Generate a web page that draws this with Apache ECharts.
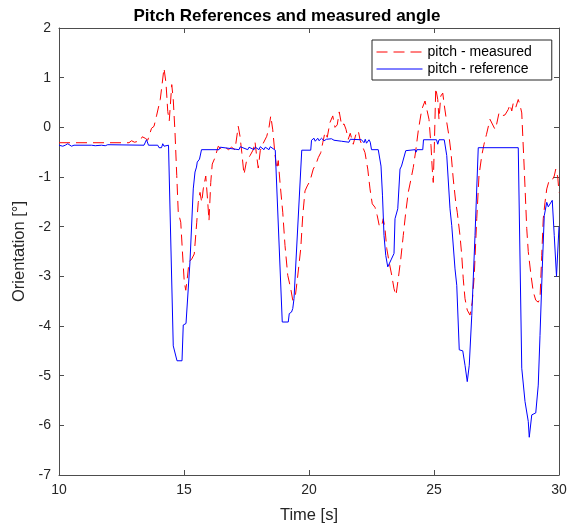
<!DOCTYPE html>
<html>
<head>
<meta charset="utf-8">
<script src="https://cdn.jsdelivr.net/npm/echarts@6/dist/echarts.min.js"></script>
<style>
  html, body { margin: 0; padding: 0; background: #fff; }
  #chart { width: 570px; height: 529px; }
</style>
</head>
<body>
<div id="chart"></div>
<script>
// pitch reference (blue, solid)
var refTime = [10.0, 10.05, 10.15, 10.25, 10.35, 10.5, 10.6, 11.3, 11.35, 11.45, 11.7, 11.75, 11.85, 11.95, 12.0,
    13.4, 13.5, 13.58, 13.95, 14.0, 14.1, 14.15, 14.2, 14.25, 14.38, 14.57, 14.65, 14.72, 14.92, 14.97, 15.08,
    15.24, 15.37, 15.44, 15.5, 15.53, 15.62, 15.7, 16.4, 16.45, 17.2, 17.25, 17.55, 17.6, 17.8, 17.85, 18.0, 18.05,
    18.2, 18.25, 18.4, 18.45, 18.65, 18.72, 18.93, 19.17, 19.21, 19.3, 19.35, 19.4, 19.71, 20.07, 20.1, 20.2,
    20.25, 20.35, 20.4, 20.5, 20.6, 20.7, 20.9, 21.0, 21.3, 21.6, 21.65, 22.1, 22.2, 22.25, 22.3, 22.4, 22.45,
    22.5, 22.77, 22.88, 22.94, 23.0, 23.07, 23.15, 23.21, 23.28, 23.4, 23.44, 23.55, 23.64, 23.7, 23.78, 23.87,
    24.24, 24.28, 24.32, 24.55, 24.58, 25.1, 25.15, 25.2, 25.41, 25.51, 25.64, 25.71, 25.84, 25.91, 26.01,
    26.15, 26.24, 26.33, 26.41, 26.51, 26.64, 26.77, 28.37, 28.51, 28.64, 28.77, 28.81, 28.91, 28.97, 29.07,
    29.17, 29.24, 29.33, 29.41, 29.51, 29.57, 29.64, 29.73, 29.81, 29.9, 29.95, 30.0];
var refPitch = [-0.36, -0.34, -0.38, -0.36, -0.33, -0.38, -0.36, -0.36, -0.32, -0.37, -0.36, -0.33, -0.37, -0.35, -0.36,
    -0.36, -0.25, -0.36, -0.36, -0.41, -0.41, -0.33, -0.38, -0.34, -0.36, -4.4, -4.42, -4.7, -4.7, -3.98, -3.95,
    -2.7, -1.24, -0.9, -0.8, -0.7, -0.64, -0.45, -0.45, -0.4, -0.45, -0.39, -0.45, -0.4, -0.45, -0.4, -0.45, -0.39,
    -0.45, -0.4, -0.45, -0.39, -0.46, -0.5, -3.92, -3.92, -3.75, -3.72, -3.65, -3.45, -0.46, -0.46, -0.26, -0.22,
    -0.28, -0.22, -0.27, -0.22, -0.27, -0.24, -0.23, -0.26, -0.28, -0.3, -0.24, -0.25, -0.31, -0.24, -0.32, -0.25, -0.3,
    -0.45, -0.45, -0.78, -1.38, -2.18, -2.58, -2.81, -2.79, -2.67, -2.54, -1.84, -1.64, -0.84, -0.78, -0.8, -0.47,
    -0.45, -0.5, -0.45, -0.45, -0.25, -0.25, -0.34, -0.25, -0.25, -0.57, -1.64, -1.98, -2.85, -3.18, -4.48,
    -4.5, -4.79, -5.12, -4.79, -3.79, -2.18, -0.41, -0.41, -4.85, -5.52, -5.92, -6.24, -5.79, -5.77, -5.75,
    -5.19, -4.19, -2.85, -1.78, -1.51, -1.6, -1.58, -1.47, -2.18, -3.0, -3.0, -2.0];

// pitch measured (red, dashed)
var measTime = [10.0, 12.8, 12.9, 12.96, 13.02, 13.25, 13.33, 13.45, 13.55, 13.7, 13.8, 13.9, 14.05, 14.2, 14.28,
    14.35, 14.41, 14.51, 14.57, 14.64, 14.71, 14.77, 14.87, 14.93, 15.01, 15.07, 15.13, 15.2, 15.31, 15.41, 15.51,
    15.57, 15.64, 15.71, 15.77, 15.87, 15.94, 16.0, 16.07, 16.13, 16.24, 16.37, 16.5, 16.64, 16.78, 16.9, 17.04,
    17.17, 17.24, 17.31, 17.4, 17.5, 17.64, 17.77, 17.84, 17.9, 17.97, 18.05, 18.16, 18.31, 18.4, 18.47, 18.55,
    18.64, 18.71, 18.77, 18.84, 18.95, 19.04, 19.15, 19.27, 19.35, 19.44, 19.53, 19.67, 19.75, 19.84, 19.93, 20.04,
    20.17, 20.28, 20.37, 20.47, 20.55, 20.64, 20.73, 20.84, 20.95, 21.04, 21.13, 21.21, 21.31, 21.4, 21.48, 21.57,
    21.65, 21.77, 21.87, 21.97, 22.05, 22.13, 22.24, 22.35, 22.44, 22.53, 22.64, 22.73, 22.81, 22.9, 22.97, 23.04,
    23.11, 23.2, 23.31, 23.4, 23.48, 23.57, 23.67, 23.77, 23.87, 23.97, 24.08, 24.17, 24.27, 24.37, 24.51, 24.64,
    24.72, 24.8, 24.88, 24.93, 24.97, 25.01, 25.07, 25.15, 25.2, 25.27, 25.35, 25.41, 25.51, 25.6, 25.68, 25.77,
    25.87, 25.93, 26.04, 26.11, 26.17, 26.24, 26.33, 26.44, 26.53, 26.61, 26.71, 26.8, 26.91, 27.0, 27.1, 27.24,
    27.3, 27.44, 27.5, 27.6, 27.71, 27.84, 27.97, 28.04, 28.11, 28.17, 28.27, 28.37, 28.44, 28.51, 28.61, 28.71,
    28.77, 28.88, 28.97, 29.07, 29.17, 29.24, 29.31, 29.37, 29.44, 29.51, 29.6, 29.71, 29.81, 29.87, 29.95, 30.0];
var measPitch = [-0.31, -0.31, -0.27, -0.23, -0.3, -0.27, -0.19, -0.22, -0.26, -0.02, 0.02, 0.23, 0.56, 1.19, 0.89,
    0.32, 0.13, 0.86, 0.56, -0.1, -0.97, -1.71, -1.91, -2.44, -3.11, -3.28, -3.05, -2.71, -2.65, -2.55, -1.91,
    -1.51, -1.31, -1.51, -1.24, -0.98, -1.44, -1.88, -1.11, -0.74, -0.61, -0.38, -0.44, -0.4, -0.45, -0.4, -0.45,
    0.02, -0.18, -0.5, -0.95, -0.68, -0.57, -0.45, -0.29, -0.55, -0.82, -0.47, -0.33, -0.18, 0.0, 0.23, -0.05,
    -0.55, -0.84, -0.67, -1.11, -1.71, -2.38, -2.98, -3.25, -3.48, -3.45, -3.08, -2.44, -1.78, -1.28, -1.18, -1.08,
    -0.84, -0.74, -0.61, -0.51, -0.31, -0.1, -0.2, 0.1, 0.23, 0.0, 0.05, 0.31, 0.03, 0.07, -0.04, -0.24,
    -0.12, -0.34, -0.15, -0.07, -0.27, -0.25, -0.51, -0.84, -1.24, -1.54, -1.61, -1.78, -1.98, -2.0, -1.84, -2.04,
    -2.44, -2.7, -2.98, -3.25, -3.38, -3.05, -2.65, -2.18, -1.71, -1.31, -1.04, -0.81, -0.47, -0.07, 0.36, 0.53,
    0.5, 0.16, -0.37, -0.84, -1.11, -0.44, 0.79, 0.56, 0.16, 0.63, 0.69, 0.45, 0.1, -0.18, -0.51, -1.04,
    -1.51, -1.71, -2.18, -2.58, -3.05, -3.45, -3.68, -3.78, -3.52, -2.98, -1.84, -0.97, -0.57, -0.34, -0.14, 0.16,
    0.16, -0.04, 0.05, 0.29, 0.23, 0.25, 0.36, 0.46, 0.33, 0.49, 0.4, 0.56, 0.45, 0.29, -0.84, -2.04,
    -2.5, -2.98, -3.31, -3.48, -3.52, -3.45, -2.58, -1.84, -1.51, -1.24, -1.08, -1.08, -0.98, -0.84, -1.0, -1.31];

var xTicks = [10, 15, 20, 25, 30];
var yTicks = [-7, -6, -5, -4, -3, -2, -1, 0, 1, 2];

function zip(xs, ys) {
    return xs.map(function (x, i) { return [x, ys[i]]; });
}

var font = 'Liberation Sans, Arial, Helvetica, sans-serif';
var axisColor = '#4d4d4d';
var textColor = '#262626';

// box-style axis: labelled bottom/left, bare mirror on top/right
function boxAxis(extra) {
    var base = {
        type: 'value',
        axisLine: { show: true, onZero: false, lineStyle: { color: axisColor, width: 1 } },
        axisTick: { show: true, inside: true, length: 5, lineStyle: { color: axisColor } },
        splitLine: { show: false }
    };
    return Object.assign(base, extra);
}

var chart = echarts.init(document.getElementById('chart'));

var option = {
    animation: false,
    backgroundColor: '#fff',
    textStyle: { fontFamily: font },
    title: {
        text: 'Pitch References and measured angle',
        left: 282,
        top: 3,
        textAlign: 'center',
        textStyle: { fontSize: 17, fontWeight: 'bold', color: '#000', fontFamily: font }
    },
    grid: { left: 59, right: 11, top: 28, bottom: 52, containLabel: false },
    legend: {
        orient: 'vertical',
        left: 372,
        top: 40,
        padding: [5, 20, 4, 4],
        itemGap: 3,
        itemWidth: 46,
        itemHeight: 14,
        borderColor: textColor,
        borderWidth: 1,
        backgroundColor: '#fff',
        itemStyle: { opacity: 0 },
        lineStyle: { width: 1 },
        textStyle: { fontSize: 14, color: '#000', fontFamily: font },
        data: ['pitch - measured', 'pitch - reference']
    },
    xAxis: [boxAxis({
        min: 10, max: 30, interval: 5,
        name: 'Time [s]',
        nameLocation: 'middle',
        nameGap: 32,
        nameTextStyle: { fontSize: 16.5, color: textColor },
        axisLabel: { fontSize: 14, color: textColor, margin: 8, customValues: xTicks }
    }), boxAxis({
        position: 'top',
        min: 10, max: 30, interval: 5,
        axisLabel: { show: false }
    })],
    yAxis: [boxAxis({
        min: -7, max: 2, interval: 1,
        name: 'Orientation [°]',
        nameLocation: 'middle',
        nameGap: 30,
        nameTextStyle: { fontSize: 16.5, color: textColor },
        axisLabel: { fontSize: 14, color: textColor, margin: 8, customValues: yTicks }
    }), boxAxis({
        position: 'right',
        min: -7, max: 2, interval: 1,
        axisLabel: { show: false }
    })],
    series: [{
        name: 'pitch - measured',
        type: 'line',
        data: zip(measTime, measPitch),
        symbol: 'none',
        itemStyle: { color: '#ff0000' },
        lineStyle: { color: '#ff0000', width: 1, type: [11, 6] }
    }, {
        name: 'pitch - reference',
        type: 'line',
        data: zip(refTime, refPitch),
        symbol: 'none',
        itemStyle: { color: '#0000ff' },
        lineStyle: { color: '#0000ff', width: 1 }
    }]
};

chart.setOption(option);
</script>
</body>
</html>
